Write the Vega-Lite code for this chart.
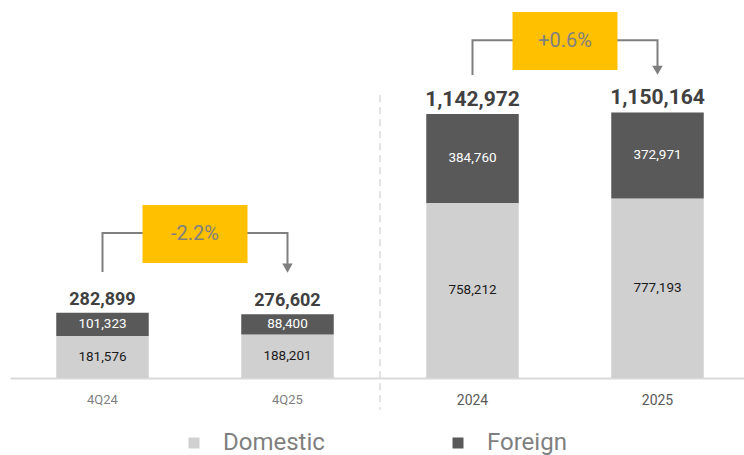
{
  "$schema": "https://vega.github.io/schema/vega-lite/v6.json",
  "width": 740,
  "height": 378,
  "autosize": {"type": "none"},
  "padding": {"left": 10, "top": 0, "right": 0, "bottom": 77},
  "background": "white",
  "config": {
    "view": {"stroke": null},
    "font": "Roboto",
    "axis": {"grid": false}
  },
  "datasets": {
    "bars": [
      {"cat": "4Q24", "type": "Domestic", "value": 181576},
      {"cat": "4Q24", "type": "Foreign", "value": 101323},
      {"cat": "4Q25", "type": "Domestic", "value": 188201},
      {"cat": "4Q25", "type": "Foreign", "value": 88400},
      {"cat": "2024", "type": "Domestic", "value": 758212},
      {"cat": "2024", "type": "Foreign", "value": 384760},
      {"cat": "2025", "type": "Domestic", "value": 777193},
      {"cat": "2025", "type": "Foreign", "value": 372971}
    ],
    "totals": [
      {"cat": "4Q24", "total": 282899},
      {"cat": "4Q25", "total": 276602},
      {"cat": "2024", "total": 1142972},
      {"cat": "2025", "total": 1150164}
    ],
    "bracket": [
      {"pair": "q", "cat": "4Q24", "step": 1, "y": 459000},
      {"pair": "q", "cat": "4Q24", "step": 2, "y": 628000},
      {"pair": "q", "cat": "4Q25", "step": 3, "y": 628000},
      {"pair": "q", "cat": "4Q25", "step": 4, "y": 480000},
      {"pair": "y", "cat": "2024", "step": 1, "y": 1312000},
      {"pair": "y", "cat": "2024", "step": 2, "y": 1463000},
      {"pair": "y", "cat": "2025", "step": 3, "y": 1463000},
      {"pair": "y", "cat": "2025", "step": 4, "y": 1334000}
    ],
    "arrows": [
      {"cat": "4Q25", "y": 476000},
      {"cat": "2025", "y": 1333000}
    ],
    "changes": [
      {"cat": "4Q24", "label": "-2.2%", "y": 624000},
      {"cat": "2024", "label": "+0.6%", "y": 1459000}
    ],
    "sep": [
      {"cat": "4Q25"}
    ]
  },
  "layer": [
    {
      "data": {"name": "bars"},
      "mark": {"type": "bar"},
      "encoding": {
        "x": {
          "field": "cat", "type": "nominal",
          "scale": {"domain": ["4Q24", "4Q25", "2024", "2025"], "paddingInner": 0.5, "paddingOuter": 0.25},
          "axis": {
            "title": null, "ticks": false, "domainColor": "#d9d9d9", "domainWidth": 2,
            "labelAngle": 0, "labelPadding": 15, "labelFont": "Roboto",
            "labelFontSize": {"condition": {"test": "datum.value == '2024' || datum.value == '2025'", "value": 14}, "value": 13},
            "labelColor": {"condition": {"test": "datum.value == '2024' || datum.value == '2025'", "value": "#595959"}, "value": "#7f7f7f"}
          }
        },
        "y": {
          "field": "value", "type": "quantitative",
          "scale": {"domain": [0, 1637000], "nice": false, "zero": true},
          "axis": null
        },
        "color": {
          "field": "type", "type": "nominal",
          "scale": {"domain": ["Domestic", "Foreign"], "range": ["#d0d0d0", "#595959"]},
          "legend": {
            "title": null, "orient": "none", "direction": "horizontal",
            "legendX": 172, "legendY": 431, "padding": 0,
            "symbolType": "square", "symbolSize": 121, "symbolStrokeWidth": 0,
            "labelFont": "Roboto", "labelFontSize": 24, "labelColor": "#7f7f7f",
            "labelOffset": 17, "columnPadding": 121
          }
        },
        "order": {"field": "type", "sort": "ascending"}
      }
    },
    {
      "data": {"name": "bars"},
      "transform": [
        {"stack": "value", "groupby": ["cat"], "sort": [{"field": "type", "order": "ascending"}], "as": ["y0", "y1"]},
        {"calculate": "(datum.y0 + datum.y1) / 2", "as": "mid"}
      ],
      "mark": {"type": "text", "font": "Roboto", "fontSize": 13.5, "baseline": "middle", "align": "center"},
      "encoding": {
        "x": {"field": "cat", "type": "nominal"},
        "y": {"field": "mid", "type": "quantitative"},
        "text": {"field": "value", "type": "quantitative", "format": ","},
        "color": {"condition": {"test": "datum.type == 'Foreign'", "value": "#ffffff"}, "value": "#1a1a1a"}
      }
    },
    {
      "data": {"name": "totals"},
      "mark": {"type": "text", "font": "Roboto", "fontWeight": "bold", "baseline": "alphabetic", "align": "center", "dy": -8, "color": "#404040"},
      "encoding": {
        "x": {"field": "cat", "type": "nominal"},
        "y": {"field": "total", "type": "quantitative"},
        "text": {"field": "total", "type": "quantitative", "format": ","},
        "size": {"condition": {"test": "datum.cat == '2024' || datum.cat == '2025'", "value": 21}, "value": 18}
      }
    },
    {
      "data": {"name": "sep"},
      "mark": {"type": "rule", "color": "#d9d9d9", "strokeWidth": 1.5, "strokeDash": [7, 5]},
      "encoding": {
        "x": {"field": "cat", "type": "nominal", "bandPosition": 1.5},
        "y": {"datum": 1225000},
        "y2": {"datum": -138000}
      }
    },
    {
      "data": {"name": "bracket"},
      "mark": {"type": "line", "color": "#7f7f7f", "strokeWidth": 2, "interpolate": "linear"},
      "encoding": {
        "x": {"field": "cat", "type": "nominal"},
        "y": {"field": "y", "type": "quantitative"},
        "detail": {"field": "pair"},
        "order": {"field": "step", "type": "quantitative"}
      }
    },
    {
      "data": {"name": "arrows"},
      "mark": {"type": "point", "shape": "triangle-down", "filled": true, "size": 110, "color": "#7f7f7f", "opacity": 1},
      "encoding": {
        "x": {"field": "cat", "type": "nominal"},
        "y": {"field": "y", "type": "quantitative"}
      }
    },
    {
      "data": {"name": "changes"},
      "mark": {"type": "point", "shape": "M-1,-0.552L1,-0.552L1,0.552L-1,0.552Z", "filled": true, "size": 11025, "color": "#FFC000", "opacity": 1, "strokeWidth": 0},
      "encoding": {
        "x": {"field": "cat", "type": "nominal", "bandPosition": 1.5},
        "y": {"field": "y", "type": "quantitative"}
      }
    },
    {
      "data": {"name": "changes"},
      "mark": {"type": "text", "font": "Roboto", "fontSize": 20, "color": "#7f7f7f", "baseline": "middle", "align": "center"},
      "encoding": {
        "x": {"field": "cat", "type": "nominal", "bandPosition": 1.5},
        "y": {"field": "y", "type": "quantitative"},
        "text": {"field": "label"}
      }
    }
  ]
}
